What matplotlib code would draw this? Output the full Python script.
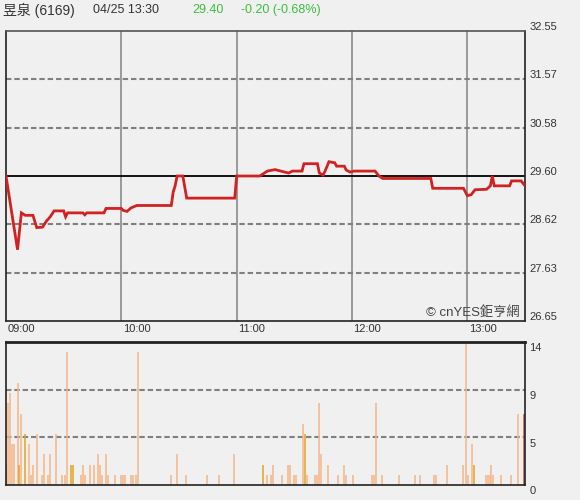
import matplotlib
matplotlib.use("Agg")
import matplotlib.pyplot as plt
from matplotlib.transforms import offset_copy, blended_transform_factory

# ---------------- data ----------------
title_name = "昱泉 (6169)"
title_time = "04/25 13:30"
last_price = "29.40"
change_text = "-0.20 (-0.68%)"
prev_close = 29.60

# minutes after 09:00 and price
price_minutes = [0, 6, 8, 10, 14, 16, 19, 21, 23, 25, 30, 31, 32, 40, 41, 42, 51, 52, 60, 61,
                 63, 65, 68, 86, 87, 88, 89, 92, 94, 119, 120, 132, 136, 140, 143, 147, 149,
                 154, 155, 162, 163, 165, 166, 168, 171, 172, 176, 177, 179, 181, 192, 194,
                 196, 221, 222, 238, 240, 242, 244, 250, 252, 253, 254, 262, 263, 268, 270]
price_values = [29.60, 28.10, 28.85, 28.80, 28.80, 28.55, 28.56, 28.68, 28.77, 28.89, 28.89,
                28.77, 28.85, 28.85, 28.81, 28.85, 28.85, 28.94, 28.94, 28.90, 28.88, 28.95,
                29.00, 29.00, 29.28, 29.40, 29.60, 29.60, 29.15, 29.15, 29.60, 29.60, 29.70,
                29.73, 29.70, 29.66, 29.70, 29.70, 29.85, 29.85, 29.66, 29.62, 29.70, 29.89,
                29.87, 29.80, 29.80, 29.72, 29.68, 29.70, 29.70, 29.60, 29.55, 29.55, 29.35,
                29.35, 29.20, 29.22, 29.32, 29.33, 29.40, 29.60, 29.40, 29.40, 29.50, 29.50,
                29.40]

vol_minutes = [0, 1, 2, 3, 4, 6, 7, 8, 10, 12, 13, 14, 16, 19, 20, 22, 23, 26, 29, 31, 32, 34,
               35, 39, 40, 41, 44, 46, 48, 49, 50, 52, 53, 57, 60, 61, 62, 65, 66, 68, 69, 86,
               89, 94, 105, 111, 119, 134, 136, 138, 139, 144, 147, 148, 150, 151, 155, 156,
               157, 161, 162, 163, 164, 168, 173, 176, 177, 181, 191, 192, 193, 196, 205, 213,
               216, 223, 224, 230, 238, 240, 241, 243, 244, 250, 251, 252, 253, 254, 258, 263,
               267, 270]
vol_values = [2, 8, 9, 4, 4, 10, 2, 7, 5, 4, 1, 2, 5, 1, 3, 1, 3, 5, 1, 1, 13, 2,
              2, 1, 2, 1, 2, 2, 3, 2, 1, 3, 1, 1, 1, 1, 1, 1, 1, 1, 13, 1,
              3, 1, 1, 1, 3, 2, 1, 1, 2, 1, 2, 2, 1, 1, 6, 5,
              1, 1, 1, 8, 3, 2, 1, 2, 1, 1, 1, 1, 8, 1, 1, 1,
              1, 1, 1, 2, 2, 14, 1, 4, 2, 1, 1, 1, 2, 1, 1, 1,
              7, 7]
vol_gold_minutes = [0, 7, 10, 34, 35, 134, 156, 244]
vol_dark_minutes = [270]

time_ticks = [0, 60, 120, 180, 240]
time_labels = ["09:00", "10:00", "11:00", "12:00", "13:00"]
price_ticks = [26.65, 27.63, 28.62, 29.60, 30.58, 31.57, 32.55]
price_labels = ["26.65", "27.63", "28.62", "29.60", "30.58", "31.57", "32.55"]
vol_ticks = [0, 14 / 3, 28 / 3, 14]
vol_labels = ["0", "5", "9", "14"]

# ---------------- style ----------------
BG = "#f0f0f0"
FONT = ["Liberation Sans", "Noto Sans CJK TC", "DejaVu Sans"]
plt.rcParams["font.family"] = FONT

fig = plt.figure(figsize=(5.8, 5.0), dpi=100, facecolor=BG)
W, H = 580, 500

def fr(x0, y_top, x1, y_bot):
    return [x0 / W, 1 - y_bot / H, (x1 - x0) / W, (y_bot - y_top) / H]

axp = fig.add_axes(fr(6, 31, 525, 321), facecolor=BG)
axv = fig.add_axes(fr(6, 342, 525, 485), facecolor=BG)

grid_dash = dict(color="#808080", lw=1.5, dashes=(2.6, 1.4))

# price panel
axp.set_xlim(0, 270)
axp.set_ylim(26.65, 32.55)
for t in time_ticks[1:]:
    axp.axvline(t, color="#8a8a8a", lw=1.2, zorder=1)
for p in price_ticks[1:-1]:
    if abs(p - prev_close) < 1e-6:
        axp.axhline(p, color="#111111", lw=1.4, zorder=2)
    else:
        axp.axhline(p, zorder=1, **grid_dash)
axp.plot(price_minutes, price_values, color="#d02222", lw=2.0, zorder=3,
         solid_joinstyle="miter")
axp.set_xticks([])
axp.set_yticks([])
for s in axp.spines.values():
    s.set_color("#222222")
    s.set_linewidth(1.2)
axp.spines["top"].set_color("#555555")

trp = blended_transform_factory(axp.transAxes, axp.transData)
trp = offset_copy(trp, fig=fig, x=3, y=3, units="points")
for p, lab in zip(price_ticks, price_labels):
    axp.text(1.0, p, lab, transform=trp, ha="left", va="center", fontsize=8,
             color="#333333", clip_on=False)

trx = blended_transform_factory(axp.transData, axp.transAxes)
for t, lab in zip(time_ticks, time_labels):
    axp.text(t + 0.8, -0.01, lab, transform=trx, ha="left", va="top", fontsize=8,
             color="#333333", clip_on=False)

axp.text(0.99, 0.008, "© cnYES鉅亨網", transform=axp.transAxes, ha="right", va="bottom",
         fontsize=9.5, color="#444444", zorder=4)

# volume panel
axv.set_xlim(0, 270.5)
axv.set_ylim(0, 14)
for v in vol_ticks[1:-1]:
    axv.axhline(v, zorder=1, **grid_dash)
colors = []
for m in vol_minutes:
    if m in vol_dark_minutes:
        colors.append("#c4602a")
    elif m in vol_gold_minutes:
        colors.append("#e2a421")
    else:
        colors.append("#f5b587")
axv.vlines(vol_minutes, 0, vol_values, colors=colors, lw=1.1, zorder=2)
axv.set_xticks([])
axv.set_yticks([])
for s in axv.spines.values():
    s.set_color("#222222")
    s.set_linewidth(1.2)
axv.spines["top"].set_linewidth(2.0)

trv = blended_transform_factory(axv.transAxes, axv.transData)
trv = offset_copy(trv, fig=fig, x=3, y=-4.5, units="points")
for v, lab in zip(vol_ticks, vol_labels):
    axv.text(1.0, v, lab, transform=trv, ha="left", va="center", fontsize=8,
             color="#333333", clip_on=False)

# header
fig.text(3 / W, 1 - 10 / H, title_name, ha="left", va="center", fontsize=10, color="#333333")
fig.text(93 / W, 1 - 10 / H, title_time, ha="left", va="center", fontsize=9, color="#333333")
fig.text(192 / W, 1 - 10 / H, last_price, ha="left", va="center", fontsize=9, color="#3cbf3c")
fig.text(241 / W, 1 - 10 / H, change_text, ha="left", va="center", fontsize=9, color="#3cbf3c")

fig.savefig("out.png", dpi=100, facecolor=BG)
